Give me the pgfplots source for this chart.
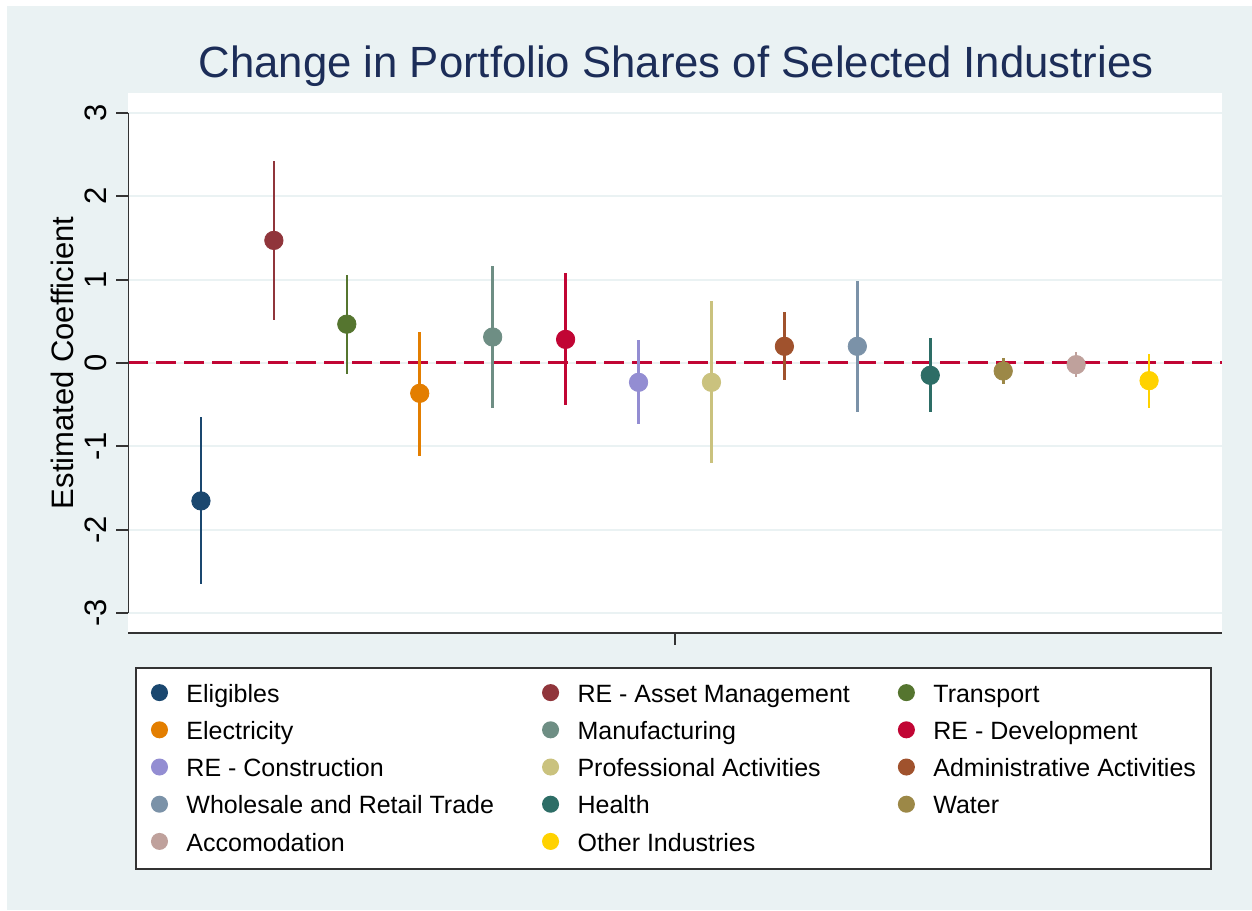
\documentclass[border=0pt]{standalone}
\usepackage{fontspec}
\setmainfont{Liberation Sans}
\usepackage{pgfplots}
\pgfplotsset{compat=1.18}

\definecolor{bg}{HTML}{EAF2F3}
\definecolor{gridc}{HTML}{EAF2F3}
\definecolor{titlec}{HTML}{1C2D58}
\definecolor{axisc}{HTML}{333333}
\definecolor{zeroc}{HTML}{C10534}
\definecolor{c1}{HTML}{1A476F}
\definecolor{c2}{HTML}{90353B}
\definecolor{c3}{HTML}{55752F}
\definecolor{c4}{HTML}{E37E00}
\definecolor{c5}{HTML}{6E8E84}
\definecolor{c6}{HTML}{C10534}
\definecolor{c7}{HTML}{938DD2}
\definecolor{c8}{HTML}{CAC27E}
\definecolor{c9}{HTML}{A0522D}
\definecolor{c10}{HTML}{7B92A8}
\definecolor{c11}{HTML}{2D6D66}
\definecolor{c12}{HTML}{9C8847}
\definecolor{c13}{HTML}{BFA19C}
\definecolor{c14}{HTML}{FFD200}

\pgfplotsset{
  ci/.style={
    only marks, mark=*, mark size=4.6pt,
    error bars/y dir=both, error bars/y explicit, error bars/error mark=none,
    error bars/error bar style={line width=1.3pt},
  },
}

\begin{document}
\begin{tikzpicture}
  \fill[white] (0,0) rectangle (626pt,455pt);
  \fill[bg] (3.5pt,0) rectangle (626pt,452pt);
  \useasboundingbox (0,0) rectangle (626pt,455pt);
  \node[anchor=base, text=titlec, font=\fontsize{21.85}{26}\selectfont]
    at (338pt,416pt) {Change in Portfolio Shares of Selected Industries};

  \begin{axis}[
    at={(64pt,138.5pt)}, anchor=south west,
    scale only axis, width=547pt, height=270pt,
    xmin=0, xmax=15, ymin=-3.24, ymax=3.24,
    axis background/.style={fill=white},
    axis line style={draw=none},
    xtick={7.5}, xticklabels={},
    ytick={-3,-2,-1,0,1,2,3},
    yticklabels={-3,-2,-1,0,1,2,3},
    xtick pos=bottom, ytick pos=left,
    tick align=outside,
    major tick length=5.8pt,
    tick style={draw=axisc, line width=1pt},
    yticklabel shift=4.5pt,
    yticklabel style={rotate=90, anchor=south, inner sep=0pt,
      font=\fontsize{15.5}{18}\selectfont},
    ymajorgrids,
    grid style={draw=gridc, line width=1pt},
    ylabel={Estimated Coefficient},
    ylabel style={at={(axis description cs:-0.0603,0.5)}, anchor=center,
      font=\fontsize{15.5}{18}\selectfont},
    legend columns=3,
    legend cell align=left,
    legend image code/.code={\fill[#1] (3.75pt,0.8pt) circle (3.75pt);},
    legend style={
      at={(0.0064,-0.063)}, anchor=north west,
      draw=axisc, line width=1pt, fill=white,
      font=\fontsize{12.5}{15}\selectfont,
      inner xsep=7.5pt, inner ysep=6.6pt,
      row sep=5.6pt,
      nodes={inner sep=0pt, text height=10.5pt, text depth=2.5pt},
      /tikz/every odd column/.append style={column sep=9.25pt},
      /tikz/every even column/.append style={column sep=24pt},
    },
  ]
    \addplot[zeroc, line width=1.5pt, dash pattern=on 10pt off 4pt, forget plot]
      coordinates {(0,0) (15,0)};

    \addplot[ci, color=c1]  coordinates {(1,-1.655) += (0,1.005) -= (0,0.993)};
    \addlegendentry{Eligibles}
    \addplot[ci, color=c2]  coordinates {(2,1.471) += (0,0.949) -= (0,0.958)};
    \addlegendentry{RE - Asset Management}
    \addplot[ci, color=c3]  coordinates {(3,0.466) += (0,0.594) -= (0,0.594)};
    \addlegendentry{Transport}
    \addplot[ci, color=c4]  coordinates {(4,-0.364) += (0,0.740) -= (0,0.748)};
    \addlegendentry{Electricity}
    \addplot[ci, color=c5]  coordinates {(5,0.312) += (0,0.851) -= (0,0.855)};
    \addlegendentry{Manufacturing}
    \addplot[ci, color=c6]  coordinates {(6,0.283) += (0,0.791) -= (0,0.786)};
    \addlegendentry{RE - Development}
    \addplot[ci, color=c7]  coordinates {(7,-0.232) += (0,0.503) -= (0,0.495)};
    \addlegendentry{RE - Construction}
    \addplot[ci, color=c8]  coordinates {(8,-0.232) += (0,0.979) -= (0,0.970)};
    \addlegendentry{Professional Activities}
    \addplot[ci, color=c9]  coordinates {(9,0.200) += (0,0.415) -= (0,0.408)};
    \addlegendentry{Administrative Activities}
    \addplot[ci, color=c10] coordinates {(10,0.200) += (0,0.782) -= (0,0.783)};
    \addlegendentry{Wholesale and Retail Trade}
    \addplot[ci, color=c11] coordinates {(11,-0.148) += (0,0.448) -= (0,0.442)};
    \addlegendentry{Health}
    \addplot[ci, color=c12] coordinates {(12,-0.096) += (0,0.156) -= (0,0.156)};
    \addlegendentry{Water}
    \addplot[ci, color=c13] coordinates {(13,-0.020) += (0,0.148) -= (0,0.152)};
    \addlegendentry{Accomodation}
    \addplot[ci, color=c14] coordinates {(14,-0.212) += (0,0.324) -= (0,0.324)};
    \addlegendentry{Other Industries}

    \draw[axisc, line width=1pt] (axis cs:0,-3.24) -- (axis cs:15,-3.24);
    \draw[axisc, line width=1pt] (axis cs:0,-3) -- (axis cs:0,3);
  \end{axis}
\end{tikzpicture}
\end{document}
